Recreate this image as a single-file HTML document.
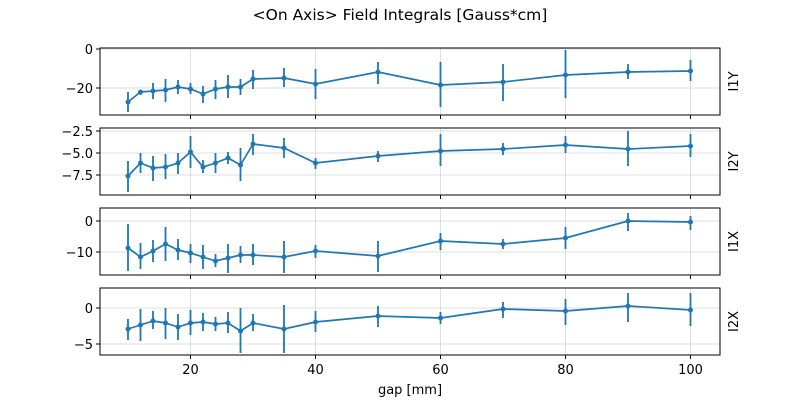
<!DOCTYPE html>
<html><head><meta charset="utf-8"><style>
body{margin:0;background:#fff;}
svg{display:block;font-family:"DejaVu Sans","Liberation Sans",sans-serif;}
.t{font-size:13px;fill:#000;}
.g{stroke:#b0b0b0;stroke-opacity:0.4;stroke-width:1;shape-rendering:crispEdges;}
.d{fill:none;stroke:#1f77b4;stroke-width:1.7;}
.e{stroke:#1f77b4;stroke-width:1.8;}
.m{fill:#1f77b4;}
.s{fill:none;stroke:#000;stroke-width:1;shape-rendering:crispEdges;}
</style></head><body>
<svg width="800" height="400" viewBox="0 0 800 400">
<text x="400" y="20" text-anchor="middle" font-size="15.5">&lt;On Axis&gt; Field Integrals [Gauss*cm]</text>

<g class="g">
<line x1="190.5" y1="48" x2="190.5" y2="115"/><line x1="315.5" y1="48" x2="315.5" y2="115"/><line x1="440.5" y1="48" x2="440.5" y2="115"/><line x1="565.5" y1="48" x2="565.5" y2="115"/><line x1="690.5" y1="48" x2="690.5" y2="115"/>
<line x1="190.5" y1="128" x2="190.5" y2="195"/><line x1="315.5" y1="128" x2="315.5" y2="195"/><line x1="440.5" y1="128" x2="440.5" y2="195"/><line x1="565.5" y1="128" x2="565.5" y2="195"/><line x1="690.5" y1="128" x2="690.5" y2="195"/>
<line x1="190.5" y1="208" x2="190.5" y2="275"/><line x1="315.5" y1="208" x2="315.5" y2="275"/><line x1="440.5" y1="208" x2="440.5" y2="275"/><line x1="565.5" y1="208" x2="565.5" y2="275"/><line x1="690.5" y1="208" x2="690.5" y2="275"/>
<line x1="190.5" y1="288" x2="190.5" y2="355"/><line x1="315.5" y1="288" x2="315.5" y2="355"/><line x1="440.5" y1="288" x2="440.5" y2="355"/><line x1="565.5" y1="288" x2="565.5" y2="355"/><line x1="690.5" y1="288" x2="690.5" y2="355"/>
<line x1="100" y1="49" x2="720" y2="49"/><line x1="100" y1="88" x2="720" y2="88"/>
<line x1="100" y1="131" x2="720" y2="131"/><line x1="100" y1="153" x2="720" y2="153"/><line x1="100" y1="175" x2="720" y2="175"/>
<line x1="100" y1="221" x2="720" y2="221"/><line x1="100" y1="252" x2="720" y2="252"/>
<line x1="100" y1="308" x2="720" y2="308"/><line x1="100" y1="344" x2="720" y2="344"/>
</g>

<path class="e" d="M128 92V112M140.5 90V95M153 83V99M165.5 79V102M178 80V94M190.5 83V94M203 86V103M215.5 80V99M228 75V98M240.5 79V95M253 70V89M284 68V87M315.5 69V99M378 62V84M440.5 62V107M503 64V101M565.5 50V98M628 64V79M690.5 60V81"/>
<polyline class="d" points="128,102 140.5,92 153,91 165.5,90 178,87 190.5,89 203,94 215.5,89 228,87 240.5,87 253,79 284,78 315.5,84 378,72 440.5,85 503,82 565.5,75 628,72 690.5,71"/>
<g class="m"><circle cx="128" cy="102" r="2.5"/><circle cx="140.5" cy="92" r="2.5"/><circle cx="153" cy="91" r="2.5"/><circle cx="165.5" cy="90" r="2.5"/><circle cx="178" cy="87" r="2.5"/><circle cx="190.5" cy="89" r="2.5"/><circle cx="203" cy="94" r="2.5"/><circle cx="215.5" cy="89" r="2.5"/><circle cx="228" cy="87" r="2.5"/><circle cx="240.5" cy="87" r="2.5"/><circle cx="253" cy="79" r="2.5"/><circle cx="284" cy="78" r="2.5"/><circle cx="315.5" cy="84" r="2.5"/><circle cx="378" cy="72" r="2.5"/><circle cx="440.5" cy="85" r="2.5"/><circle cx="503" cy="82" r="2.5"/><circle cx="565.5" cy="75" r="2.5"/><circle cx="628" cy="72" r="2.5"/><circle cx="690.5" cy="71" r="2.5"/></g>

<path class="e" d="M128 161V192M140.5 153V173M153 156V181M165.5 154V179M178 153V174M190.5 136V168M203 160V173M215.5 153V173M228 152V164M240.5 148V181M253 134V155M284 138V158M315.5 158V169M378 151V162M440.5 134V166M503 143V155M565.5 136V153M628 131V166M690.5 134V157"/>
<polyline class="d" points="128,176 140.5,163 153,168 165.5,167 178,163 190.5,152 203,167 215.5,163 228,158 240.5,165 253,144 284,148 315.5,163 378,156 440.5,151 503,149 565.5,145 628,149 690.5,146"/>
<g class="m"><circle cx="128" cy="176" r="2.5"/><circle cx="140.5" cy="163" r="2.5"/><circle cx="153" cy="168" r="2.5"/><circle cx="165.5" cy="167" r="2.5"/><circle cx="178" cy="163" r="2.5"/><circle cx="190.5" cy="152" r="2.5"/><circle cx="203" cy="167" r="2.5"/><circle cx="215.5" cy="163" r="2.5"/><circle cx="228" cy="158" r="2.5"/><circle cx="240.5" cy="165" r="2.5"/><circle cx="253" cy="144" r="2.5"/><circle cx="284" cy="148" r="2.5"/><circle cx="315.5" cy="163" r="2.5"/><circle cx="378" cy="156" r="2.5"/><circle cx="440.5" cy="151" r="2.5"/><circle cx="503" cy="149" r="2.5"/><circle cx="565.5" cy="145" r="2.5"/><circle cx="628" cy="149" r="2.5"/><circle cx="690.5" cy="146" r="2.5"/></g>

<path class="e" d="M128 224V271M140.5 243V269M153 240V262M165.5 227V261M178 239V260M190.5 244V263M203 245V269M215.5 254V267M228 244V273M240.5 246V263M253 244V265M284 241V273M315.5 245V258M378 241V272M440.5 233V250M503 239V249M565.5 227V249M628 213V231M690.5 216V230"/>
<polyline class="d" points="128,248 140.5,257 153,251 165.5,244 178,250 190.5,253 203,257 215.5,261 228,258 240.5,255 253,255 284,257 315.5,251 378,256 440.5,241 503,244 565.5,238 628,221 690.5,222"/>
<g class="m"><circle cx="128" cy="248" r="2.5"/><circle cx="140.5" cy="257" r="2.5"/><circle cx="153" cy="251" r="2.5"/><circle cx="165.5" cy="244" r="2.5"/><circle cx="178" cy="250" r="2.5"/><circle cx="190.5" cy="253" r="2.5"/><circle cx="203" cy="257" r="2.5"/><circle cx="215.5" cy="261" r="2.5"/><circle cx="228" cy="258" r="2.5"/><circle cx="240.5" cy="255" r="2.5"/><circle cx="253" cy="255" r="2.5"/><circle cx="284" cy="257" r="2.5"/><circle cx="315.5" cy="251" r="2.5"/><circle cx="378" cy="256" r="2.5"/><circle cx="440.5" cy="241" r="2.5"/><circle cx="503" cy="244" r="2.5"/><circle cx="565.5" cy="238" r="2.5"/><circle cx="628" cy="221" r="2.5"/><circle cx="690.5" cy="222" r="2.5"/></g>

<path class="e" d="M128 319V340M140.5 309V341M153 311V329M165.5 308V339M178 314V340M190.5 310V335M203 313V331M215.5 317V331M228 312V333M240.5 308V353M253 314V331M284 305V353M315.5 311V332M378 306V327M440.5 312V324M503 302V318M565.5 299V325M628 293V322M690.5 293V326"/>
<polyline class="d" points="128,329 140.5,325 153,321 165.5,323 178,327 190.5,323 203,322 215.5,324 228,323 240.5,331 253,323 284,329 315.5,322 378,316 440.5,318 503,309 565.5,311 628,306 690.5,310"/>
<g class="m"><circle cx="128" cy="329" r="2.5"/><circle cx="140.5" cy="325" r="2.5"/><circle cx="153" cy="321" r="2.5"/><circle cx="165.5" cy="323" r="2.5"/><circle cx="178" cy="327" r="2.5"/><circle cx="190.5" cy="323" r="2.5"/><circle cx="203" cy="322" r="2.5"/><circle cx="215.5" cy="324" r="2.5"/><circle cx="228" cy="323" r="2.5"/><circle cx="240.5" cy="331" r="2.5"/><circle cx="253" cy="323" r="2.5"/><circle cx="284" cy="329" r="2.5"/><circle cx="315.5" cy="322" r="2.5"/><circle cx="378" cy="316" r="2.5"/><circle cx="440.5" cy="318" r="2.5"/><circle cx="503" cy="309" r="2.5"/><circle cx="565.5" cy="311" r="2.5"/><circle cx="628" cy="306" r="2.5"/><circle cx="690.5" cy="310" r="2.5"/></g>

<rect class="s" x="100" y="48" width="620" height="67"/>
<rect class="s" x="100" y="128" width="620" height="67"/>
<rect class="s" x="100" y="208" width="620" height="67"/>
<rect class="s" x="100" y="288" width="620" height="67"/>

<path class="s" d="M100 49h-4M100 88h-4M100 131h-4M100 153h-4M100 175h-4M100 221h-4M100 252h-4M100 308h-4M100 344h-4
M190.5 115v4M315.5 115v4M440.5 115v4M565.5 115v4M690.5 115v4
M190.5 195v4M315.5 195v4M440.5 195v4M565.5 195v4M690.5 195v4
M190.5 275v4M315.5 275v4M440.5 275v4M565.5 275v4M690.5 275v4
M190.5 355v4M315.5 355v4M440.5 355v4M565.5 355v4M690.5 355v4"/>

<g class="t" text-anchor="end">
<text x="93" y="54">0</text><text x="93" y="93">−20</text>
<text x="93" y="136">−2.5</text><text x="93" y="158">−5.0</text><text x="93" y="180">−7.5</text>
<text x="93" y="226">0</text><text x="93" y="257">−10</text>
<text x="93" y="313">0</text><text x="93" y="349">−5</text>
</g>
<g class="t" text-anchor="middle">
<text x="190.5" y="374">20</text><text x="315.5" y="374">40</text><text x="440.5" y="374">60</text><text x="565.5" y="374">80</text><text x="690.5" y="374">100</text>
<text x="410" y="394">gap [mm]</text>
</g>
<g class="t" text-anchor="middle">
<text transform="translate(738,81.5) rotate(-90)">I1Y</text>
<text transform="translate(738,161.5) rotate(-90)">I2Y</text>
<text transform="translate(738,241.5) rotate(-90)">I1X</text>
<text transform="translate(738,321.5) rotate(-90)">I2X</text>
</g>
</svg>
</body></html>
